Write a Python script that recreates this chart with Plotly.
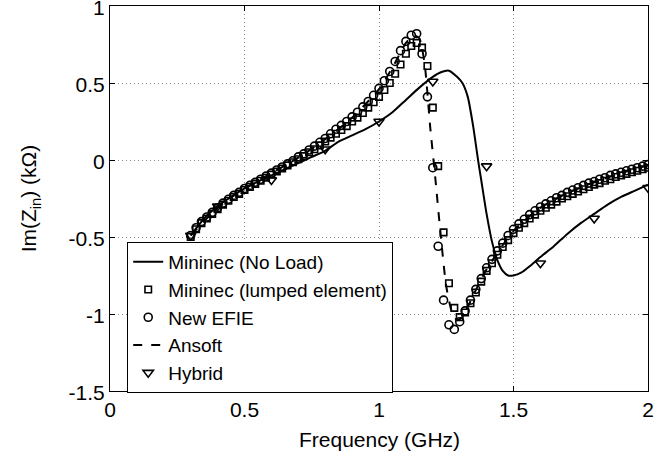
import plotly.graph_objects as go

# ---------------- data ----------------
f_mark = [0.30, 0.32, 0.34, 0.36, 0.38, 0.40, 0.42, 0.44, 0.46, 0.48,
          0.50, 0.52, 0.54, 0.56, 0.58, 0.60, 0.62, 0.64, 0.66, 0.68,
          0.70, 0.72, 0.74, 0.76, 0.78, 0.80, 0.82, 0.84, 0.86, 0.88,
          0.90, 0.92, 0.94, 0.96, 0.98, 1.00, 1.02, 1.04, 1.06, 1.08,
          1.10, 1.12, 1.14, 1.16, 1.18, 1.20, 1.22, 1.24, 1.26, 1.28,
          1.30, 1.32, 1.34, 1.36, 1.38, 1.40, 1.42, 1.44, 1.46, 1.48,
          1.50, 1.52, 1.54, 1.56, 1.58, 1.60, 1.62, 1.64, 1.66, 1.68,
          1.70, 1.72, 1.74, 1.76, 1.78, 1.80, 1.82, 1.84, 1.86, 1.88,
          1.90, 1.92, 1.94, 1.96, 1.98, 2.00]

efie = [-0.49, -0.44, -0.40, -0.37, -0.34, -0.31, -0.28, -0.255, -0.23, -0.21,
        -0.185, -0.165, -0.145, -0.125, -0.105, -0.085, -0.065, -0.045, -0.025, -0.005,
        0.02, 0.04, 0.065, 0.09, 0.115, 0.14, 0.17, 0.20, 0.225, 0.25,
        0.28, 0.31, 0.345, 0.38, 0.42, 0.465, 0.515, 0.575, 0.64, 0.71,
        0.77, 0.81, 0.82, 0.69, 0.41, -0.05, -0.56, -0.91, -1.07, -1.10,
        -1.05, -0.98, -0.91, -0.84, -0.77, -0.70, -0.645, -0.59, -0.54, -0.49,
        -0.45, -0.415, -0.385, -0.355, -0.33, -0.305, -0.285, -0.265, -0.245, -0.23,
        -0.21, -0.195, -0.18, -0.165, -0.15, -0.14, -0.125, -0.115, -0.10, -0.09,
        -0.08, -0.07, -0.06, -0.05, -0.04, -0.03]

lumped = [-0.50, -0.45, -0.41, -0.38, -0.35, -0.32, -0.29, -0.265, -0.24, -0.22,
          -0.195, -0.175, -0.155, -0.135, -0.115, -0.095, -0.075, -0.055, -0.035, -0.015,
          0.005, 0.025, 0.05, 0.07, 0.095, 0.12, 0.145, 0.17, 0.195, 0.22,
          0.25, 0.275, 0.305, 0.34, 0.375, 0.41, 0.455, 0.50, 0.56, 0.62,
          0.69, 0.74, 0.76, 0.73, 0.61, 0.34, -0.04, -0.47, -0.80, -0.96,
          -1.02, -0.99, -0.93, -0.86, -0.79, -0.72, -0.67, -0.615, -0.565, -0.52,
          -0.475, -0.44, -0.41, -0.38, -0.355, -0.33, -0.31, -0.29, -0.27, -0.25,
          -0.235, -0.22, -0.205, -0.19, -0.175, -0.16, -0.15, -0.135, -0.125, -0.11,
          -0.10, -0.09, -0.08, -0.07, -0.06, -0.05]

f_noload = [0.30, 0.35, 0.40, 0.45, 0.50, 0.55, 0.60, 0.65, 0.70, 0.75,
            0.80, 0.85, 0.90, 0.95, 1.00, 1.05, 1.10, 1.15, 1.20, 1.23,
            1.26, 1.29, 1.31, 1.33, 1.35, 1.36, 1.37, 1.38, 1.40, 1.42,
            1.44, 1.46, 1.48, 1.50, 1.53, 1.56, 1.60, 1.65, 1.70, 1.75,
            1.80, 1.85, 1.90, 1.95, 2.00]
noload = [-0.49, -0.38, -0.30, -0.24, -0.185, -0.14, -0.10, -0.06, -0.02, 0.02,
          0.06, 0.12, 0.16, 0.20, 0.25, 0.31, 0.39, 0.47, 0.54, 0.57,
          0.58, 0.54, 0.50, 0.41, 0.22, 0.10, -0.02, -0.13, -0.35, -0.53,
          -0.65, -0.72, -0.75, -0.75, -0.73, -0.69, -0.63, -0.56, -0.48, -0.41,
          -0.35, -0.29, -0.24, -0.20, -0.16]

f_ansoft = [0.30, 0.40, 0.50, 0.60, 0.70, 0.80, 0.90, 1.00, 1.05, 1.10,
            1.13, 1.15, 1.17, 1.19, 1.21, 1.23, 1.25, 1.27, 1.29, 1.31,
            1.35, 1.40, 1.50, 1.60, 1.70, 1.80, 1.90, 2.00]
ansoft = [-0.49, -0.31, -0.185, -0.085, 0.015, 0.135, 0.275, 0.46, 0.60, 0.76,
          0.81, 0.79, 0.62, 0.22, -0.13, -0.50, -0.82, -0.98, -1.04, -1.02,
          -0.88, -0.71, -0.46, -0.31, -0.215, -0.145, -0.085, -0.035]

f_hybrid = [0.3, 0.4, 0.6, 0.8, 1.0, 1.2, 1.4, 1.6, 1.8, 2.0]
hybrid = [-0.49, -0.30, -0.13, 0.07, 0.25, 0.51, -0.04, -0.67, -0.38, -0.18]

x_ticks = [0, 0.5, 1, 1.5, 2]
x_ticktext = ["0", "0.5", "1", "1.5", "2"]
y_ticks = [-1.5, -1, -0.5, 0, 0.5, 1]
y_ticktext = ["-1.5", "-1", "-0.5", "0", "0.5", "1"]

x_title = "Frequency (GHz)"
y_title = "Im(Z<sub>in</sub>) (kΩ)"

# ---------------- figure ----------------
fig = go.Figure()
fig.add_trace(go.Scatter(x=f_noload, y=noload, mode="lines", name="Mininec (No Load)",
                         line=dict(color="black", width=2, shape="spline", smoothing=0.6)))
fig.add_trace(go.Scatter(x=f_mark, y=lumped, mode="markers", name="Mininec (lumped element)",
                         marker=dict(symbol="square-open", size=6.5, color="black",
                                     line=dict(width=1.6, color="black"))))
fig.add_trace(go.Scatter(x=f_mark, y=efie, mode="markers", name="New EFIE",
                         marker=dict(symbol="circle-open", size=8, color="black",
                                     line=dict(width=1.6, color="black"))))
fig.add_trace(go.Scatter(x=f_ansoft, y=ansoft, mode="lines", name="Ansoft",
                         line=dict(color="black", width=2, dash="dash", shape="spline", smoothing=0.6)))
fig.add_trace(go.Scatter(x=f_hybrid, y=hybrid, mode="markers", name="Hybrid",
                         marker=dict(symbol="triangle-down-open", size=9, color="black",
                                     line=dict(width=1.6, color="black"))))

axis_common = dict(showline=True, linecolor="black", linewidth=1, mirror="allticks",
                   ticks="inside", ticklen=5, tickcolor="black",
                   showgrid=True, gridcolor="#8a8a8a", griddash="1px,3px", gridwidth=1,
                   zeroline=False, tickfont=dict(size=21, color="black"),
                   ticklabeloverflow="allow", automargin=False)

fig.update_xaxes(range=[0, 2], tickvals=x_ticks, ticktext=x_ticktext, **axis_common)
fig.update_yaxes(range=[-1.5, 1], tickvals=y_ticks, ticktext=y_ticktext,
                 ticklabelshift=2, **axis_common)

fig.add_annotation(text=x_title, xref="paper", yref="paper", x=0.5, y=-0.127,
                   xanchor="center", yanchor="middle", showarrow=False,
                   font=dict(size=21, color="black"))
fig.add_annotation(text=y_title, xref="paper", yref="paper", x=-0.149, y=0.5,
                   xanchor="center", yanchor="middle", showarrow=False, textangle=-90,
                   font=dict(size=21, color="black"))

fig.update_layout(
    width=668, height=459,
    margin=dict(l=110, r=20, t=6, b=68),
    paper_bgcolor="white", plot_bgcolor="white",
    font=dict(family="Liberation Sans, Arial, sans-serif", color="black"),
    legend=dict(x=0.032, y=0.387, xanchor="left", yanchor="top",
                bgcolor="white", bordercolor="black", borderwidth=1,
                font=dict(size=19, color="black"), tracegroupgap=0,
                itemwidth=30),
    showlegend=True,
)

fig.write_html("out.html", config={"displayModeBar": False},
               post_script="document.body.style.margin='0';document.body.style.overflow='hidden';")
